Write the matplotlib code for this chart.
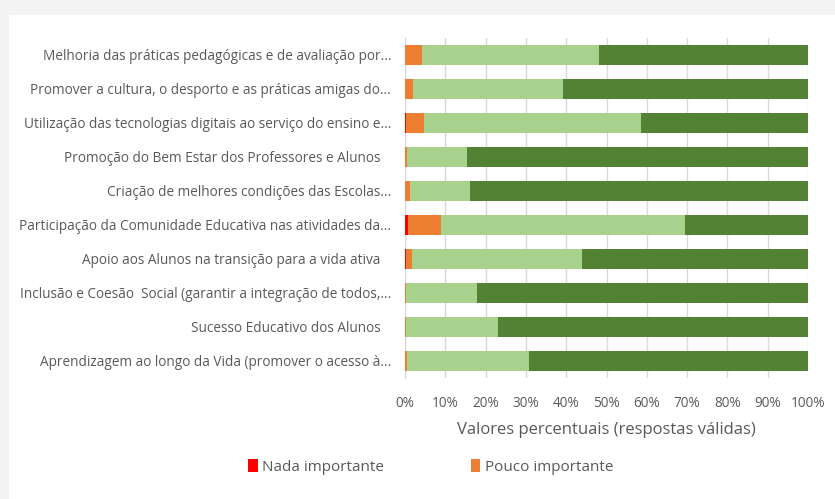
import numpy as np
import matplotlib.pyplot as plt
from matplotlib.patches import Rectangle

# categorias (de cima para baixo)
categorias = [
    "Melhoria das práticas pedagógicas e de avaliação por...",
    "Promover a cultura, o desporto e as práticas amigas do...",
    "Utilização das tecnologias digitais ao serviço do ensino e...",
    "Promoção do Bem Estar dos Professores e Alunos   ",
    "Criação de melhores condições das Escolas...",
    "Participação da Comunidade Educativa nas atividades da...",
    "Apoio aos Alunos na transição para a vida ativa   ",
    "Inclusão e Coesão  Social (garantir a integração de todos,...",
    "Sucesso Educativo dos Alunos   ",
    "Aprendizagem ao longo da Vida (promover o acesso à...",
]

# percentagens por nível de importância
nada = [0.0, 0.0, 0.2, 0.0, 0.0, 0.8, 0.3, 0.0, 0.0, 0.0]
pouco = [4.1, 1.9, 4.4, 0.5, 1.2, 8.2, 1.4, 0.2, 0.2, 0.5]
importante = [44.0, 37.2, 53.9, 14.8, 15.0, 60.5, 42.1, 17.7, 22.9, 30.2]
muito = [100 - a - b - c for a, b, c in zip(nada, pouco, importante)]

series = ["Nada importante", "Pouco importante", "Importante", "Muito importante"]
cores = ["#FF0000", "#ED7D31", "#A9D18E", "#548235"]

plt.rcParams['font.family'] = ['Open Sans', 'DejaVu Sans']

fig = plt.figure(figsize=(8.35, 4.99), dpi=100)
fig.patch.set_facecolor('#f3f3f3')
fig.patches.append(Rectangle((9 / 835, 0), 1, 1 - 15 / 499, transform=fig.transFigure,
                             facecolor='white', edgecolor='none', zorder=-1))

ax = fig.add_axes([405 / 835, 1 - 378 / 499, 403 / 835, 340 / 499])
ax.set_zorder(1)
ax.set_facecolor('white')

y = np.arange(len(categorias))
esquerda = np.zeros(len(categorias))
barras = []
for nome, valores, cor in zip(series, [nada, pouco, importante, muito], cores):
    b = ax.barh(y, valores, left=esquerda, height=0.59, color=cor, label=nome, zorder=3)
    barras.append(b)
    esquerda += np.array(valores)

ax.set_ylim(len(categorias) - 0.5, -0.5)
ax.set_yticks(y)
ax.set_yticklabels(categorias, fontsize=9.8, color='#595959')
ax.set_xlim(0, 100)
ax.set_xticks(np.arange(0, 101, 10))
ax.set_xticklabels([f"{v}%" for v in range(0, 101, 10)], fontsize=9.8, color='#595959')
ax.tick_params(axis='y', length=0, pad=10)
ax.tick_params(axis='x', length=0, pad=13)
ax.xaxis.grid(True, color='#d9d9d9', linewidth=1, zorder=0)
for s in ['top', 'right', 'bottom']:
    ax.spines[s].set_visible(False)
ax.spines['left'].set_color('#d9d9d9')
ax.set_xlabel("Valores percentuais (respostas válidas)", fontsize=12, color='#595959', labelpad=8)

leg = fig.legend(barras[:2], series[:2], loc='center', bbox_to_anchor=(431 / 835, 1 - 467 / 499),
                 ncol=2, frameon=False, fontsize=11, labelcolor='#595959',
                 handlelength=0.6, handleheight=0.9, columnspacing=5.7, handletextpad=0.3)
leg.set_zorder(2)

fig.savefig('out.png', dpi=100, facecolor=fig.get_facecolor())
